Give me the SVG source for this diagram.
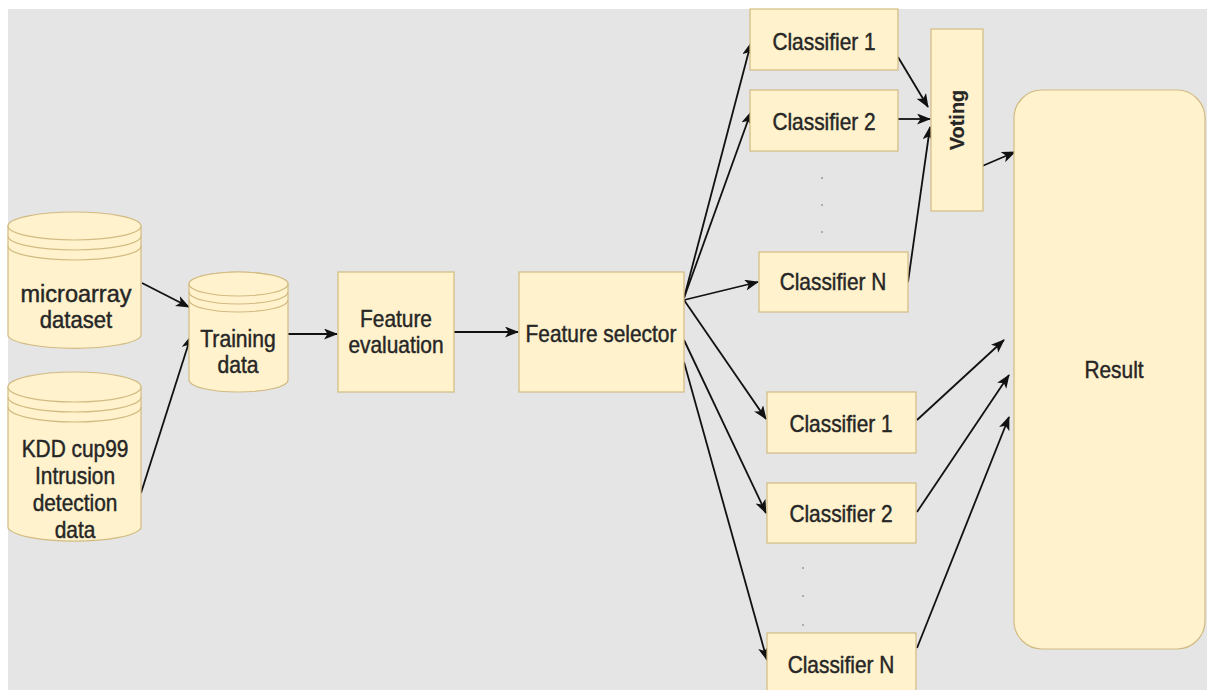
<svg xmlns="http://www.w3.org/2000/svg" width="1207" height="690" viewBox="0 0 1207 690">
<defs>
<marker id="ah" markerUnits="userSpaceOnUse" markerWidth="16" markerHeight="12" refX="13" refY="5.5" orient="auto">
<path d="M0,0 L14,5.5 L0,11 L3.5,5.5 Z" fill="#111"/>
</marker>
<style>
.bx{fill:#fff2cc;stroke:#d2bb82;stroke-width:1.2}
.ln{fill:none;stroke:#d2bb82;stroke-width:1.2}
.t{font-family:"Liberation Sans",Arial,sans-serif;font-size:24px;fill:#262626;stroke:#262626;stroke-width:0.45;text-anchor:middle}
.c{stroke:#111;stroke-width:1.8;fill:none;marker-end:url(#ah)}
.dot{fill:#999}
</style>
</defs>
<rect x="0" y="0" width="1207" height="690" fill="#ffffff"/>
<rect x="8" y="9" width="1199" height="681" fill="#e5e5e5"/>

<g id="connectors">
<line class="c" x1="142" y1="283" x2="189" y2="307"/>
<line class="c" x1="141" y1="493" x2="191" y2="336"/>
<line class="c" x1="288" y1="334" x2="337" y2="334"/>
<line class="c" x1="454" y1="332" x2="518" y2="332"/>
<line class="c" x1="684" y1="298" x2="751" y2="43"/>
<line class="c" x1="684" y1="298" x2="751" y2="112"/>
<line class="c" x1="684" y1="300" x2="758" y2="282"/>
<line class="c" x1="684" y1="300" x2="766" y2="419"/>
<line class="c" x1="684" y1="340" x2="766" y2="513"/>
<line class="c" x1="684" y1="362" x2="767" y2="660"/>
<line class="c" x1="898" y1="57" x2="928" y2="107"/>
<line class="c" x1="898" y1="119" x2="930" y2="119"/>
<line class="c" x1="908" y1="282" x2="930" y2="127"/>
<line class="c" x1="980" y1="167" x2="1015" y2="152"/>
<line class="c" x1="917" y1="420" x2="1004" y2="340"/>
<line class="c" x1="917" y1="512" x2="1009" y2="375"/>
<line class="c" x1="917" y1="648" x2="1009" y2="417"/>
</g>

<g id="microarray">
<path class="bx" d="M8,226 A67,14 0 0 1 141,226 L141,336 A67,14 0 0 1 8,336 Z"/>
<ellipse class="bx" cx="74.5" cy="226" rx="66.5" ry="14"/>
<path class="ln" d="M8,236 A66.5,14 0 0 0 141,236 M8,246 A66.5,14 0 0 0 141,246"/>
<text class="t" transform="translate(76,302) scale(0.98,1)">microarray</text>
<text class="t" transform="translate(76,328) scale(0.92,1)">dataset</text>
</g>

<g id="kdd">
<path class="bx" d="M8,387 A67,15 0 0 1 141,387 L141,528 A67,15 0 0 1 8,528 Z"/>
<ellipse class="bx" cx="74.5" cy="387" rx="66.5" ry="15"/>
<path class="ln" d="M8,397 A66.5,15 0 0 0 141,397 M8,407 A66.5,15 0 0 0 141,407"/>
<text class="t" transform="translate(75,457) scale(0.87,1)">KDD cup99</text>
<text class="t" transform="translate(75,484) scale(0.87,1)">Intrusion</text>
<text class="t" transform="translate(75,511) scale(0.87,1)">detection</text>
<text class="t" transform="translate(75,538) scale(0.87,1)">data</text>
</g>

<g id="training">
<path class="bx" d="M189,284 A49.5,12 0 0 1 288,284 L288,380 A49.5,12 0 0 1 189,380 Z"/>
<ellipse class="bx" cx="238.5" cy="284" rx="49.5" ry="12"/>
<path class="ln" d="M189,292 A49.5,12 0 0 0 288,292 M189,300 A49.5,12 0 0 0 288,300"/>
<text class="t" transform="translate(238,347) scale(0.88,1)">Training</text>
<text class="t" transform="translate(238,373) scale(0.88,1)">data</text>
</g>

<g id="feature-evaluation">
<rect class="bx" x="338" y="272" width="116" height="120"/>
<text class="t" transform="translate(396,327) scale(0.87,1)">Feature</text>
<text class="t" transform="translate(396,353) scale(0.87,1)">evaluation</text>
</g>

<g id="feature-selector">
<rect class="bx" x="519" y="272" width="165" height="120"/>
<text class="t" transform="translate(601,342) scale(0.87,1)">Feature selector</text>
</g>

<g id="classifier-1-top">
<rect class="bx" x="750" y="9" width="148" height="61"/>
<text class="t" transform="translate(824,50) scale(0.87,1)">Classifier 1</text>
</g>
<g id="classifier-2-top">
<rect class="bx" x="750" y="90" width="148" height="61"/>
<text class="t" transform="translate(824,130) scale(0.87,1)">Classifier 2</text>
</g>
<g id="dots-top">
<circle class="dot" cx="822" cy="178" r="1"/>
<circle class="dot" cx="822" cy="205" r="1"/>
<circle class="dot" cx="822" cy="232" r="1"/>
</g>
<g id="classifier-n-top">
<rect class="bx" x="759" y="252" width="149" height="60"/>
<text class="t" transform="translate(833,290) scale(0.87,1)">Classifier N</text>
</g>

<g id="voting">
<rect class="bx" x="931" y="29" width="52" height="182"/>
<text class="t" style="font-weight:bold;font-size:21px;stroke-width:0.2" transform="translate(964,120) rotate(-90) scale(0.95,1)">Voting</text>
</g>

<g id="classifier-1-bottom">
<rect class="bx" x="767" y="392" width="149" height="61"/>
<text class="t" transform="translate(841,432) scale(0.87,1)">Classifier 1</text>
</g>
<g id="classifier-2-bottom">
<rect class="bx" x="767" y="483" width="149" height="60"/>
<text class="t" transform="translate(841,522) scale(0.87,1)">Classifier 2</text>
</g>
<g id="dots-bottom">
<circle class="dot" cx="803" cy="568" r="1"/>
<circle class="dot" cx="803" cy="596" r="1"/>
<circle class="dot" cx="803" cy="625" r="1"/>
</g>
<g id="classifier-n-bottom">
<rect class="bx" x="767" y="633" width="149" height="62"/>
<text class="t" transform="translate(841,673) scale(0.87,1)">Classifier N</text>
</g>

<g id="result">
<rect class="bx" x="1014" y="90" width="191" height="559" rx="28" ry="28"/>
<text class="t" transform="translate(1114,378) scale(0.87,1)">Result</text>
</g>
</svg>
